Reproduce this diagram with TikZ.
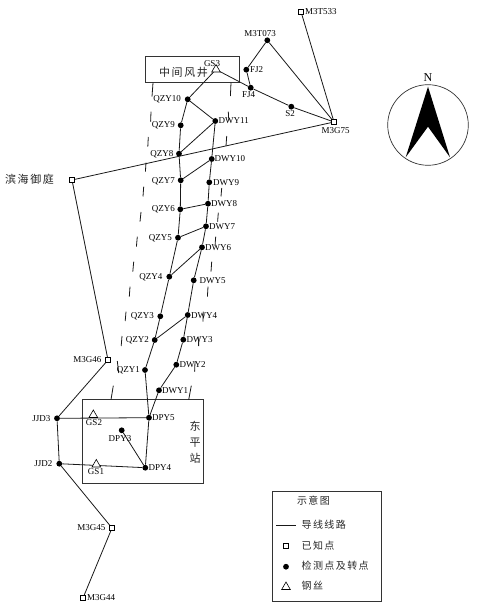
\documentclass[tikz,border=0pt]{standalone}
\usepackage{fontspec}
\setmainfont{Liberation Serif}
\newfontfamily\cjk[LetterSpace=14]{Noto Sans CJK SC}
\usetikzlibrary{shapes.geometric}
\tikzset{
  conn/.style={line width=0.8pt,black!90},
  dot/.style={circle,fill=black,inner sep=0pt,minimum size=5.8pt},
  known/.style={rectangle,draw=black,fill=white,line width=0.9pt,inner sep=0pt,minimum size=4.6pt},
  wire/.style={regular polygon,regular polygon sides=3,draw=black,fill=white,line width=0.6pt,inner sep=0pt,minimum size=10pt},
  lbl/.style={font=\fontsize{9}{10}\selectfont,inner sep=0pt,text=black},
  zh/.style={font=\fontsize{10}{12}\selectfont\cjk,inner sep=0pt,text=black!85},
  frame/.style={draw=black!80,line width=0.7pt},
  tick/.style={line width=0.8pt,black!90}
}
\begin{document}
\begin{tikzpicture}[x=1pt,y=-1pt]
\useasboundingbox (0,0) rectangle (477,612);
% frames
\node[frame,minimum width=94pt,minimum height=26.3pt,inner sep=0pt] (fengjing) at (192,69.2) {};
\node[frame,minimum width=120.7pt,minimum height=83.6pt,inner sep=0pt] (dongping) at (142.6,441.5) {};
\node[frame,minimum width=109.4pt,minimum height=110pt,inner sep=0pt] (legend) at (327,546.7) {};
% zone ticks
\foreach \xa/\ya/\xb/\yb in {
 153/82.7/152/96.7, 151/111.7/150.6/121.7, 148.3/137/147.8/146.7, 146/162.7/145.4/171.7,
 143.7/186.7/143/196.5, 141/212/140/221.7, 137.3/236.7/136.4/246.7, 133.7/261.7/132.8/271.7,
 130/286.7/129.3/296.7, 126/311.7/125.2/321, 122/336/121.2/346, 117.3/361/118.7/373, 113.3/385.7/111/399.7,
 231/82.7/230.4/96, 228.3/111.7/228.8/120.7, 226.7/136/226/146, 221.7/188/221/196.5,
 218.3/212.7/217.6/221.7, 215.7/236.7/215/246, 211.7/261.7/211/271.7, 208/286.7/207.4/296.7,
 203.3/311.7/203/321.7, 198.7/336.7/198.6/346, 195/361.7/194.6/371.7, 191.3/385.7/188.7/399.7}
  \draw[tick] (\xa,\ya) -- (\xb,\yb);
% nodes
\node[known] (M3T533) at (301,11.7) {};
\node[dot] (M3T073) at (267.3,40.3) {};
\node[dot] (FJ2) at (246.3,69.7) {};
\node[dot] (FJ4) at (250.7,87.7) {};
\node[dot] (S2) at (291.3,106.7) {};
\node[known] (M3G75) at (334,122) {};
\node[dot] (QZY10) at (187.7,99.3) {};
\node[dot] (QZY9) at (180.7,125.3) {};
\node[dot] (QZY8) at (179,153.7) {};
\node[dot] (QZY7) at (180.7,180.3) {};
\node[dot] (QZY6) at (180.3,209.3) {};
\node[dot] (QZY5) at (178,237.7) {};
\node[dot] (QZY4) at (169.3,276.7) {};
\node[dot] (QZY3) at (160.3,316.3) {};
\node[dot] (QZY2) at (154.7,340) {};
\node[dot] (QZY1) at (145,370) {};
\node[dot] (DWY11) at (215.3,121) {};
\node[dot] (DWY10) at (211.7,159) {};
\node[dot] (DWY9) at (209.3,182.3) {};
\node[dot] (DWY8) at (208,203.7) {};
\node[dot] (DWY7) at (206,226.3) {};
\node[dot] (DWY6) at (202,247.3) {};
\node[dot] (DWY5) at (193.7,280.3) {};
\node[dot] (DWY4) at (187.7,315) {};
\node[dot] (DWY3) at (183.3,339.7) {};
\node[dot] (DWY2) at (176.3,364.7) {};
\node[dot] (DWY1) at (159,390.3) {};
\node[dot] (DPY5) at (149,417.7) {};
\node[dot] (DPY4) at (145.3,467.7) {};
\node[dot] (DPY3) at (121.7,430.3) {};
\node[dot] (JJD3) at (57,418.3) {};
\node[dot] (JJD2) at (59.3,463.7) {};
\node[known] (BH) at (72,180) {};
\node[known] (M3G46) at (108,360) {};
\node[known] (M3G45) at (112,528) {};
\node[known] (M3G44) at (83,598) {};
\coordinate (GS3) at (216,69.5);
\coordinate (GS2) at (93.3,415);
\coordinate (GS1) at (96.3,464.5);
% connectors
\draw[conn] (M3T533) -- (M3G75);
\draw[conn] (M3G75) -- (M3T073) -- (FJ2) -- (FJ4);
\draw[conn] (GS3) -- (FJ4) -- (S2) -- (M3G75);
\draw[conn] (GS3) -- (QZY10) -- (QZY9) -- (QZY8) -- (QZY7) -- (QZY6) -- (QZY5) -- (QZY4) -- (QZY3) -- (QZY2) -- (QZY1) -- (DPY5) -- (DPY4);
\draw[conn] (QZY10) -- (DWY11) -- (DWY10) -- (DWY9) -- (DWY8) -- (DWY7) -- (DWY6) -- (DWY5) -- (DWY4) -- (DWY3) -- (DWY2) -- (DWY1) -- (DPY5);
\draw[conn] (QZY8) -- (DWY11);
\draw[conn] (QZY7) -- (DWY10);
\draw[conn] (QZY6) -- (DWY8);
\draw[conn] (QZY5) -- (DWY7);
\draw[conn] (QZY4) -- (DWY6);
\draw[conn] (QZY2) -- (DWY4);
\draw[conn] (BH) -- (M3G75);
\draw[conn] (BH) -- (M3G46) -- (JJD3) -- (JJD2) -- (M3G45) -- (M3G44);
\draw[conn] (JJD3) -- (DPY5);
\draw[conn] (JJD2) -- (DPY4);
\draw[conn] (DPY3) -- (DPY4);
% re-stamp markers above the lines
\foreach \n/\x/\y in {M3T533/301/11.7,M3G75/334/122,BH/72/180,M3G46/108/360,M3G45/112/528,M3G44/83/598}
  \node[known] at (\x,\y) {};
\node[wire] (t3) at (GS3) {};
\node[wire] (t2) at (GS2) {};
\node[wire] (t1) at (GS1) {};
% labels
\node[lbl,anchor=west] at (305,11.7) {M3T533};
\node[lbl] at (260,33.5) {M3T073};
\node[lbl,anchor=west] at (250,70) {FJ2};
\node[lbl] at (248.5,95) {FJ4};
\node[lbl] at (290,114) {S2};
\node[lbl] at (335.5,130.5) {M3G75};
\node[lbl] at (212,63.5) {GS3};
\foreach \t/\x/\y in {QZY10/181/99.7,QZY9/175/125.7,QZY8/173.5/154,QZY7/175/181,QZY6/175/209.7,QZY5/172/238,QZY4/162.5/277,QZY3/154/316.7,QZY2/149/340.3,QZY1/140/370.3}
  \node[lbl,anchor=east] at (\x,\y) {\t};
\foreach \t/\x/\y in {DWY11/218.5/121,DWY10/214.5/159,DWY9/213/182.5,DWY8/211/204,DWY7/209/226.7,DWY6/205/247.7,DWY5/199.5/280.7,DWY4/191/315.3,DWY3/186.5/340,DWY2/179.5/365,DWY1/162/390.7,DPY5/152/418,DPY4/148.5/468}
  \node[lbl,anchor=west] at (\x,\y) {\t};
\node[lbl] at (120,438.5) {DPY3};
\node[lbl] at (94,422.5) {GS2};
\node[lbl] at (96,471.5) {GS1};
\node[lbl,anchor=east] at (50.5,418.5) {JJD3};
\node[lbl,anchor=east] at (52.5,464) {JJD2};
\node[lbl,anchor=east] at (101.5,360) {M3G46};
\node[lbl,anchor=east] at (105.5,528) {M3G45};
\node[lbl,anchor=west] at (87,598) {M3G44};
\node[zh,anchor=west,font=\fontsize{11}{12}\selectfont\cjk] at (5,179.5) {滨海御庭};
\node[zh,font=\fontsize{11}{12}\selectfont\cjk] at (183.5,72.5) {中间风井};
\node[zh,align=center,font=\fontsize{11}{16}\selectfont\cjk] at (195,442.5) {东\\平\\站};
% compass
\node[draw=black!80,line width=0.7pt,circle,minimum size=80.6pt,inner sep=0pt] (compass) at (428,125) {};
\fill[black] (428,86.7) -- (450,157.3) -- (428,126.7) -- (405.7,157.3) -- cycle;
\node[font=\fontsize{12}{13}\selectfont,inner sep=0pt] at (428,78) {N};
% legend
\node[zh] at (313.5,501) {示意图};
\coordinate (leg1) at (276,525);
\coordinate (leg2) at (296,525);
\draw[conn] (leg1) -- (leg2);
\node[zh,anchor=west] at (301.5,525) {导线线路};
\node[known] at (286,546) {};
\node[zh,anchor=west] at (301.5,545.5) {已知点};
\node[dot] at (286,566.7) {};
\node[zh,anchor=west] at (301.5,565.5) {检测点及转点};
\node[wire] at (286,587) {};
\node[zh,anchor=west] at (301.5,586) {钢丝};
\end{tikzpicture}
\end{document}
